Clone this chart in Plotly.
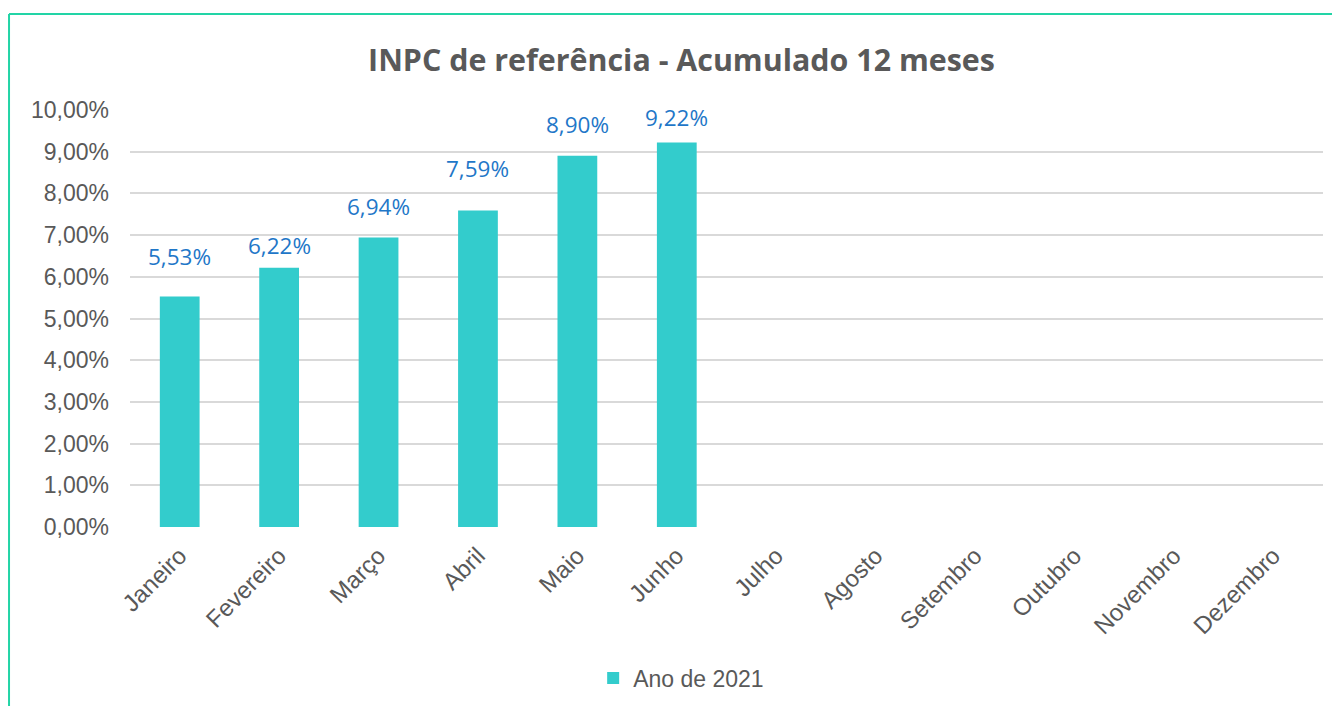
import plotly.graph_objects as go

months = ["Janeiro", "Fevereiro", "Março", "Abril", "Maio", "Junho",
          "Julho", "Agosto", "Setembro", "Outubro", "Novembro", "Dezembro"]
values = [5.53, 6.22, 6.94, 7.59, 8.90, 9.22, None, None, None, None, None, None]
series_name = "Ano de 2021"
title = "INPC de referência - Acumulado 12 meses"
y_ticks = [0, 1, 2, 3, 4, 5, 6, 7, 8, 9, 10]
y_tick_labels = ["0,00%", "1,00%", "2,00%", "3,00%", "4,00%", "5,00%",
                 "6,00%", "7,00%", "8,00%", "9,00%", "10,00%"]

# pixel offsets of the (manually placed) data labels above each bar
label_shift = [40, 22, 31, 42, 31, 25]

bar_color = "#33CCCC"
label_color = "#1F77C8"
text_color = "#595959"

fig = go.Figure()
fig.add_trace(go.Bar(x=months, y=values, name=series_name,
                     marker=dict(color=bar_color, line=dict(width=0)),
                     width=0.4))

annotations = []
for m, v, s in zip(months, values, label_shift):
    if v is None:
        continue
    annotations.append(dict(x=m, y=v, xref="x", yref="y",
                            text=f"{v:.2f}%".replace(".", ","),
                            showarrow=False, yshift=s,
                            font=dict(family="Open Sans", size=22.5, color=label_color)))

fig.update_layout(
    width=1340, height=706,
    margin=dict(l=122, r=25, t=102, b=187, autoexpand=False),
    paper_bgcolor="white", plot_bgcolor="white",
    title=dict(text="<b>" + title + "</b>", x=0.5026, xanchor="center",
               y=0.926, yanchor="middle",
               font=dict(family="Open Sans", size=30.4, color=text_color)),
    showlegend=True,
    legend=dict(orientation="h", x=0.462, xanchor="center", y=-0.362, yanchor="middle",
                font=dict(family="Liberation Sans", size=23, color=text_color)),
    annotations=annotations,
    shapes=[
        dict(type="line", xref="paper", yref="paper", x0=-0.1014, x1=1.03,
             y0=1.230, y1=1.230, line=dict(color="#22D4A6", width=2)),
        dict(type="line", xref="paper", yref="paper", x0=-0.1014, x1=-0.1014,
             y0=1.230, y1=-0.5, line=dict(color="#22D4A6", width=2)),
    ],
)
fig.update_xaxes(tickangle=-45, showgrid=False, showline=False, ticks="",
                 automargin=False, ticklabelstandoff=9,
                 tickfont=dict(family="Liberation Sans", size=24, color=text_color))
fig.update_yaxes(range=[0, 10], tickvals=y_ticks, ticktext=y_tick_labels,
                 showgrid=True, gridcolor="#D9D9D9", gridwidth=2, zeroline=False,
                 showline=False, ticks="", ticklabelstandoff=20, automargin=False,
                 tickfont=dict(family="Liberation Sans", size=23, color=text_color))

fig.write_html("out.html")
